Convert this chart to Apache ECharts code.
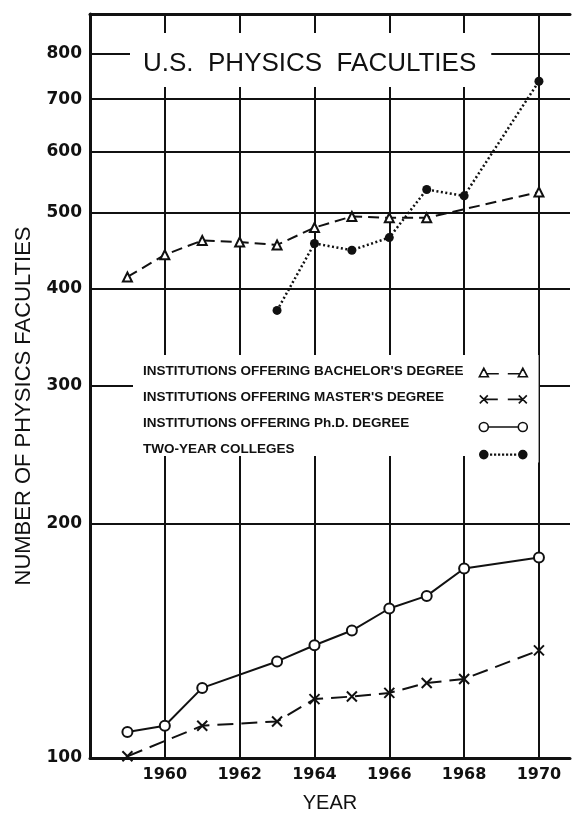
<!DOCTYPE html>
<html>
<head>
<meta charset="utf-8">
<title>U.S. Physics Faculties</title>
<script src="https://cdn.jsdelivr.net/npm/echarts@6/dist/echarts.min.js"></script>
<style>
    html, body { margin: 0; padding: 0; background: #fff; }
    #chart { width: 573px; height: 818px; }
</style>
</head>
<body>
<div id="chart"></div>
<script>
// data (no survey in 1969)
var bachelorYears = [1959, 1960, 1961, 1962, 1963, 1964, 1965, 1966, 1967, 1970];
var bachelorValues = [414, 442, 461, 459, 455, 479, 495, 493, 493, 532];

var masterYears = [1959, 1961, 1963, 1964, 1965, 1966, 1967, 1968, 1970];
var masterValues = [100.5, 110, 111.4, 119, 119.9, 121.2, 124.8, 126.3, 137.4];

var phdYears = [1959, 1960, 1961, 1963, 1964, 1965, 1966, 1967, 1968, 1970];
var phdValues = [108, 110, 123, 133, 139.5, 145.7, 155.5, 161.4, 175, 180.8];

var twoYearYears = [1963, 1964, 1965, 1966, 1967, 1968, 1970];
var twoYearValues = [375, 457, 448, 465, 536, 526, 738];

var yearTicks = [1960, 1962, 1964, 1966, 1968, 1970];
var countTicks = [100, 200, 300, 400, 500, 600, 700, 800];

var seriesNames = [
    "INSTITUTIONS OFFERING BACHELOR'S DEGREE",
    "INSTITUTIONS OFFERING MASTER'S DEGREE",
    "INSTITUTIONS OFFERING Ph.D. DEGREE",
    "TWO-YEAR COLLEGES"
];

var INK = '#111';
var TEXT_FONT = '"Liberation Sans", Arial, sans-serif';
var NUM_FONT = '"DejaVu Sans", sans-serif';

// pair years with values for a value x axis
function pairs(years, values) {
    return years.map(function (y, i) {
        return [y, values[i]];
    });
}

// legend samples: marker - line - marker, drawn 49 x 14
var dots = '';
for (var d = 12; d <= 36; d += 4) {
    dots += 'M' + d + ' 6.7h0.6v0.6h-0.6Z';
}
var legendIcons = [
    'path://M0 0M0.5 12L5 3.5L9.5 12ZM8.5 9L20 9M29 9L40.5 9M39.5 12L44 3.5L48.5 12ZM49 14',
    'path://M0 0M1 3L9 11M9 3L1 11M5 7L19 7M29 7L44 7M40 3L48 11M48 3L40 11M49 14',
    'path://M0 0M0.5 7A4.5 4.5 0 1 1 9.5 7A4.5 4.5 0 1 1 0.5 7ZM9.5 7L39.5 7M39.5 7A4.5 4.5 0 1 1 48.5 7A4.5 4.5 0 1 1 39.5 7ZM49 14',
    'path://M0 0M1 7A4 4 0 1 1 9 7A4 4 0 1 1 1 7Z' + dots +
        'M40 7A4 4 0 1 1 48 7A4 4 0 1 1 40 7ZM49 14'
];
var legendFills = ['#fff', INK, '#fff', INK];

var chart = echarts.init(document.getElementById('chart'));

var option = {
    animation: false,
    backgroundColor: '#fff',
    title: {
        text: 'U.S.  PHYSICS  FACULTIES',
        left: 130,
        top: 33,
        padding: [18, 15, 10, 13],
        backgroundColor: '#fff',
        textStyle: {
            color: INK,
            fontFamily: TEXT_FONT,
            fontWeight: 'normal',
            fontSize: 26,
            lineHeight: 26
        }
    },
    legend: [
        {
            // text column
            orient: 'vertical',
            left: 133,
            top: 355,
            padding: [9, 16, 0, 4],
            backgroundColor: '#fff',
            selectedMode: false,
            itemWidth: 1,
            itemHeight: 14,
            itemGap: 12,
            icon: 'rect',
            itemStyle: { color: 'rgba(0,0,0,0)', borderWidth: 0 },
            data: seriesNames,
            textStyle: {
                color: INK,
                fontFamily: TEXT_FONT,
                fontWeight: 'bold',
                fontSize: 13.5
            }
        },
        {
            // sample column
            orient: 'vertical',
            left: 468,
            top: 355,
            padding: [9, 10, 0, 10],
            backgroundColor: '#fff',
            selectedMode: false,
            itemWidth: 49,
            itemHeight: 14,
            itemGap: 12,
            formatter: function () { return ''; },
            data: seriesNames.map(function (n, i) {
                return {
                    name: n,
                    icon: legendIcons[i],
                    itemStyle: { color: legendFills[i], borderColor: INK, borderWidth: 1.6 }
                };
            })
        }
    ],
    grid: {
        left: 90,
        right: 3,
        top: 14,
        bottom: 52
    },
    xAxis: [
        {
            type: 'value',
            min: 1958,
            max: 1970.83,
            interval: 2,
            name: 'YEAR',
            nameLocation: 'middle',
            nameGap: 35,
            nameTextStyle: {
                color: INK,
                fontFamily: TEXT_FONT,
                fontSize: 20
            },
            axisLine: { show: true, lineStyle: { color: INK, width: 3 } },
            axisTick: { show: false, customValues: yearTicks },
            axisLabel: {
                customValues: yearTicks,
                margin: 9,
                color: INK,
                fontFamily: NUM_FONT,
                fontWeight: 'bold',
                fontSize: 16,
                formatter: function (v) { return String(v); }
            },
            splitLine: { show: true, lineStyle: { color: INK, width: 2 } }
        },
        {
            // top border of the frame
            type: 'value',
            position: 'top',
            min: 1958,
            max: 1970.83,
            interval: 2,
            axisLine: { show: true, lineStyle: { color: INK, width: 3 } },
            axisTick: { show: false },
            axisLabel: { show: false },
            splitLine: { show: false }
        }
    ],
    yAxis: {
        type: 'log',
        logBase: 10,
        min: 100,
        max: 900,
        name: 'NUMBER OF PHYSICS FACULTIES',
        nameLocation: 'middle',
        nameGap: 55,
        nameTextStyle: {
            color: INK,
            fontFamily: TEXT_FONT,
            fontSize: 22,
            padding: [0, 40, 0, 0]
        },
        axisLine: { show: true, lineStyle: { color: INK, width: 3 } },
        axisTick: { show: false, customValues: countTicks },
        axisLabel: {
            customValues: countTicks,
            margin: 8,
            color: INK,
            fontFamily: NUM_FONT,
            fontWeight: 'bold',
            fontSize: 17,
            formatter: function (v) { return String(Math.round(v)); }
        },
        splitLine: { show: true, lineStyle: { color: INK, width: 2 } }
    },
    series: [
        {
            name: seriesNames[0],
            type: 'line',
            data: pairs(bachelorYears, bachelorValues),
            symbol: 'emptyTriangle',
            symbolSize: 9,
            lineStyle: { color: INK, width: 2, type: [11, 6] },
            itemStyle: { color: INK, borderWidth: 1.5 }
        },
        {
            name: seriesNames[1],
            type: 'line',
            data: pairs(masterYears, masterValues),
            symbol: 'path://M0 0L10 10M10 0L0 10',
            symbolSize: 10,
            lineStyle: { color: INK, width: 2, type: [16, 8] },
            itemStyle: { color: INK, borderColor: INK, borderWidth: 2 }
        },
        {
            name: seriesNames[2],
            type: 'line',
            data: pairs(phdYears, phdValues),
            symbol: 'emptyCircle',
            symbolSize: 10,
            lineStyle: { color: INK, width: 2 },
            itemStyle: { color: INK, borderWidth: 1.5 }
        },
        {
            name: seriesNames[3],
            type: 'line',
            data: pairs(twoYearYears, twoYearValues),
            symbol: 'circle',
            symbolSize: 9,
            lineStyle: { color: INK, width: 2.5, type: [2, 2.5] },
            itemStyle: { color: INK }
        }
    ]
};

option && chart.setOption(option);
</script>
</body>
</html>
